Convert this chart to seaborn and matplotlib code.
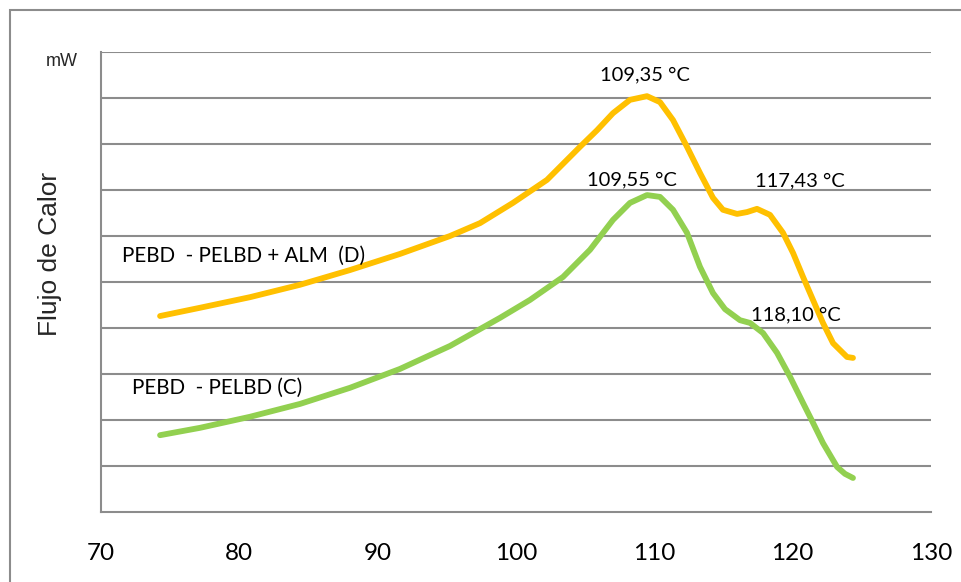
import matplotlib
matplotlib.use("Agg")
import matplotlib.pyplot as plt
import seaborn as sns
import pandas as pd

# DSC thermograms: temperature (°C) vs heat flow (relative units)
temp_d = [74.27, 77.16, 80.77, 84.39, 88.00, 91.61, 95.23, 97.40, 99.78, 102.24,
          104.63, 105.86, 107.01, 108.24, 109.47, 110.41, 111.35, 112.36, 113.30,
          114.24, 114.96, 115.98, 116.70, 117.42, 118.36, 119.30, 120.03, 120.75,
          121.47, 122.19, 122.92, 123.93, 124.36]
flow_d = [4.26, 4.44, 4.67, 4.94, 5.26, 5.61, 6.00, 6.28, 6.72, 7.22,
          7.94, 8.30, 8.67, 8.96, 9.04, 8.91, 8.52, 7.94, 7.37,
          6.83, 6.57, 6.48, 6.52, 6.59, 6.46, 6.07, 5.63, 5.11,
          4.61, 4.11, 3.67, 3.37, 3.35]

temp_c = [74.27, 77.16, 80.77, 84.39, 88.00, 91.61, 95.23, 98.84, 101.01, 103.40,
          105.35, 107.01, 108.24, 109.47, 110.41, 111.35, 112.36, 113.30, 114.24,
          115.11, 116.19, 116.92, 117.86, 118.87, 119.81, 120.75, 121.47, 122.19,
          123.21, 123.78, 124.36]
flow_c = [1.67, 1.83, 2.07, 2.35, 2.70, 3.11, 3.61, 4.22, 4.61, 5.11,
          5.70, 6.35, 6.72, 6.89, 6.85, 6.57, 6.07, 5.33, 4.76,
          4.41, 4.17, 4.11, 3.89, 3.46, 2.94, 2.37, 1.94, 1.50,
          0.98, 0.83, 0.74]

series_names = ["PEBD  - PELBD + ALM  (D)", "PEBD  - PELBD (C)"]
series_colors = ["#FFC000", "#92D050"]
x_ticks = [70, 80, 90, 100, 110, 120, 130]

# peak annotations: text, x, y
peak_labels = ["109,35 °C", "109,55 °C", "117,43 °C", "118,10 °C"]
peak_x = [109.33, 108.4, 120.5, 120.2]
peak_y = [9.5, 7.22, 7.2, 4.28]

df = pd.concat([
    pd.DataFrame({"T": temp_d, "Q": flow_d, "serie": series_names[0]}),
    pd.DataFrame({"T": temp_c, "Q": flow_c, "serie": series_names[1]}),
])

sns.set_theme(style="white")
plt.rcParams["font.family"] = ["Lato", "DejaVu Sans"]

W, H = 962, 582
fig = plt.figure(figsize=(W / 100, H / 100), dpi=100)
ax = fig.add_axes([101 / W, (H - 512) / H, 830 / W, 460 / H])

grid_c = "#8C8C8C"
for g in range(1, 11):
    ax.axhline(g, color=grid_c, lw=1.5, zorder=0)

sns.lineplot(data=df, x="T", y="Q", hue="serie", palette=series_colors,
             hue_order=series_names, sort=False, estimator=None,
             linewidth=4.2, legend=False, ax=ax, zorder=3)
for line in ax.lines:
    line.set_solid_capstyle("round")
    line.set_solid_joinstyle("round")

ax.set_xlim(70, 130)
ax.set_ylim(0, 10)
ax.set_xticks(x_ticks)
ax.set_xticklabels([str(t) for t in x_ticks], fontsize=17.5, color="black")
ax.set_yticks([])
ax.tick_params(axis="x", length=0, pad=22)
ax.set_xlabel("")
ax.set_ylabel("")
for side in ["top", "right"]:
    ax.spines[side].set_visible(False)
for side in ["left", "bottom"]:
    ax.spines[side].set_color(grid_c)
    ax.spines[side].set_linewidth(1.5)

for txt, px, py in zip(peak_labels, peak_x, peak_y):
    ax.text(px, py, txt, ha="center", va="center", fontsize=14.5, color="black")

ax.text(71.52, 5.57, series_names[0], ha="left", va="center", fontsize=14.8, color="black")
ax.text(72.24, 2.70, series_names[1], ha="left", va="center", fontsize=14.8, color="black")

fig.text(62 / W, 1 - 61 / H, "mW", ha="center", va="center", fontsize=13,
         family=["Liberation Sans", "DejaVu Sans"])
fig.text(50 / W, 1 - 254 / H, "Flujo de Calor", ha="center", va="center",
         rotation=90, fontsize=19, family=["Liberation Sans", "DejaVu Sans"])

# outer chart frame
frame = plt.Rectangle((10 / W, -0.2), 2, (H - 10) / H + 0.2, fill=False,
                      edgecolor=grid_c, lw=1.5, transform=fig.transFigure,
                      clip_on=False)
fig.patches.append(frame)

fig.savefig("out.png", dpi=100)
